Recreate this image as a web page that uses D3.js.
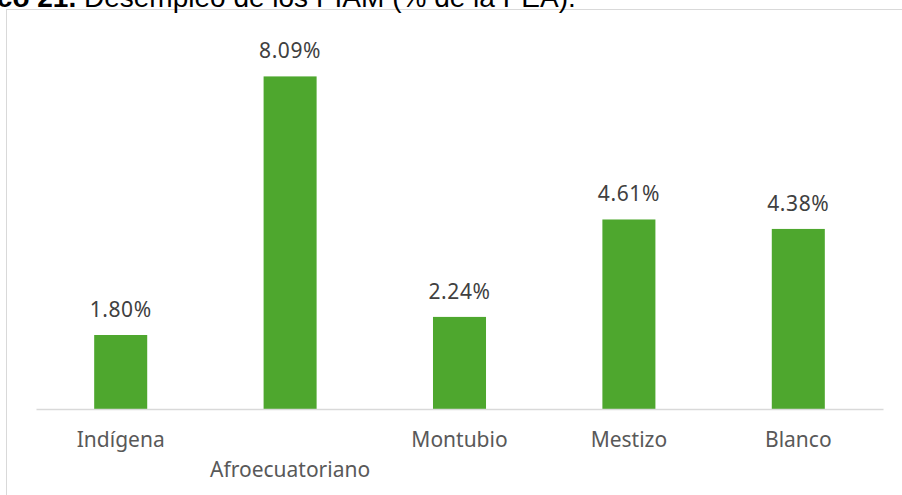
<!DOCTYPE html>
<html>
<head>
<meta charset="utf-8">
<script src="https://cdn.jsdelivr.net/npm/d3@7/dist/d3.min.js"></script>
<style>
  html, body { margin: 0; padding: 0; background: #fff; }
  svg { display: block; }
</style>
</head>
<body>
<svg id="chart" width="902" height="495"></svg>
<script>
const categories = ["Indígena", "Afroecuatoriano", "Montubio", "Mestizo", "Blanco"];
const values = [1.80, 8.09, 2.24, 4.61, 4.38];
const valueLabels = ["1.80%", "8.09%", "2.24%", "4.61%", "4.38%"];
const titleBold = "Gráfico 21.";
const titleText = "Desempleo de los PIAM (% de la PEA).";

const svg = d3.select("#chart");
const W = 902, H = 495;
const fontFamily = "'Noto Sans', 'Open Sans', sans-serif";

// chart frame
svg.append("rect")
  .attr("x", 6.5).attr("y", 9.5)
  .attr("width", W + 10).attr("height", H + 10)
  .attr("fill", "#fff").attr("stroke", "#d9d9d9").attr("stroke-width", 1);

// title (partially cut off at top, as in the reference)
const title = svg.append("text")
  .attr("y", 7)
  .attr("font-family", "'Liberation Sans', Arial, sans-serif")
  .attr("font-size", 28)
  .attr("fill", "#000");
title.append("tspan").attr("font-weight", "bold").text(titleBold + " ");
title.append("tspan").text(titleText);
const boldW = title.select("tspan").node().getComputedTextLength();
title.attr("x", 84 - boldW);

const x = d3.scaleBand()
  .domain(categories)
  .range([36, 883])
  .paddingInner(0.687)
  .paddingOuter(0.3435);

const y = d3.scaleLinear()
  .domain([0, 9])
  .range([409, 39]);

// bars
svg.selectAll("rect.bar")
  .data(values)
  .enter().append("rect")
  .attr("class", "bar")
  .attr("x", (d, i) => x(categories[i]))
  .attr("y", d => y(d))
  .attr("width", x.bandwidth())
  .attr("height", d => y(0) - y(d))
  .attr("fill", "#4ea72e");

// baseline axis
const axis = d3.axisBottom(x).tickSize(0).tickFormat("");
const gAxis = svg.append("g").attr("transform", `translate(0,${y(0)})`).call(axis);
gAxis.select(".domain").attr("stroke", "#d9d9d9").attr("stroke-width", 1.5);

// value labels
svg.selectAll("text.val")
  .data(values)
  .enter().append("text")
  .attr("class", "val")
  .attr("x", (d, i) => x(categories[i]) + x.bandwidth() / 2)
  .attr("y", d => y(d) - 18)
  .attr("text-anchor", "middle")
  .attr("font-family", fontFamily)
  .attr("font-size", 21)
  .attr("letter-spacing", 0.6)
  .attr("fill", "#404040")
  .text((d, i) => valueLabels[i]);

// category labels (staggered)
svg.selectAll("text.cat")
  .data(categories)
  .enter().append("text")
  .attr("class", "cat")
  .attr("x", d => x(d) + x.bandwidth() / 2)
  .attr("y", (d, i) => i === 1 ? 477 : 447)
  .attr("text-anchor", "middle")
  .attr("font-family", fontFamily)
  .attr("font-size", 21)
  .attr("fill", "#595959")
  .text(d => d);
</script>
</body>
</html>
